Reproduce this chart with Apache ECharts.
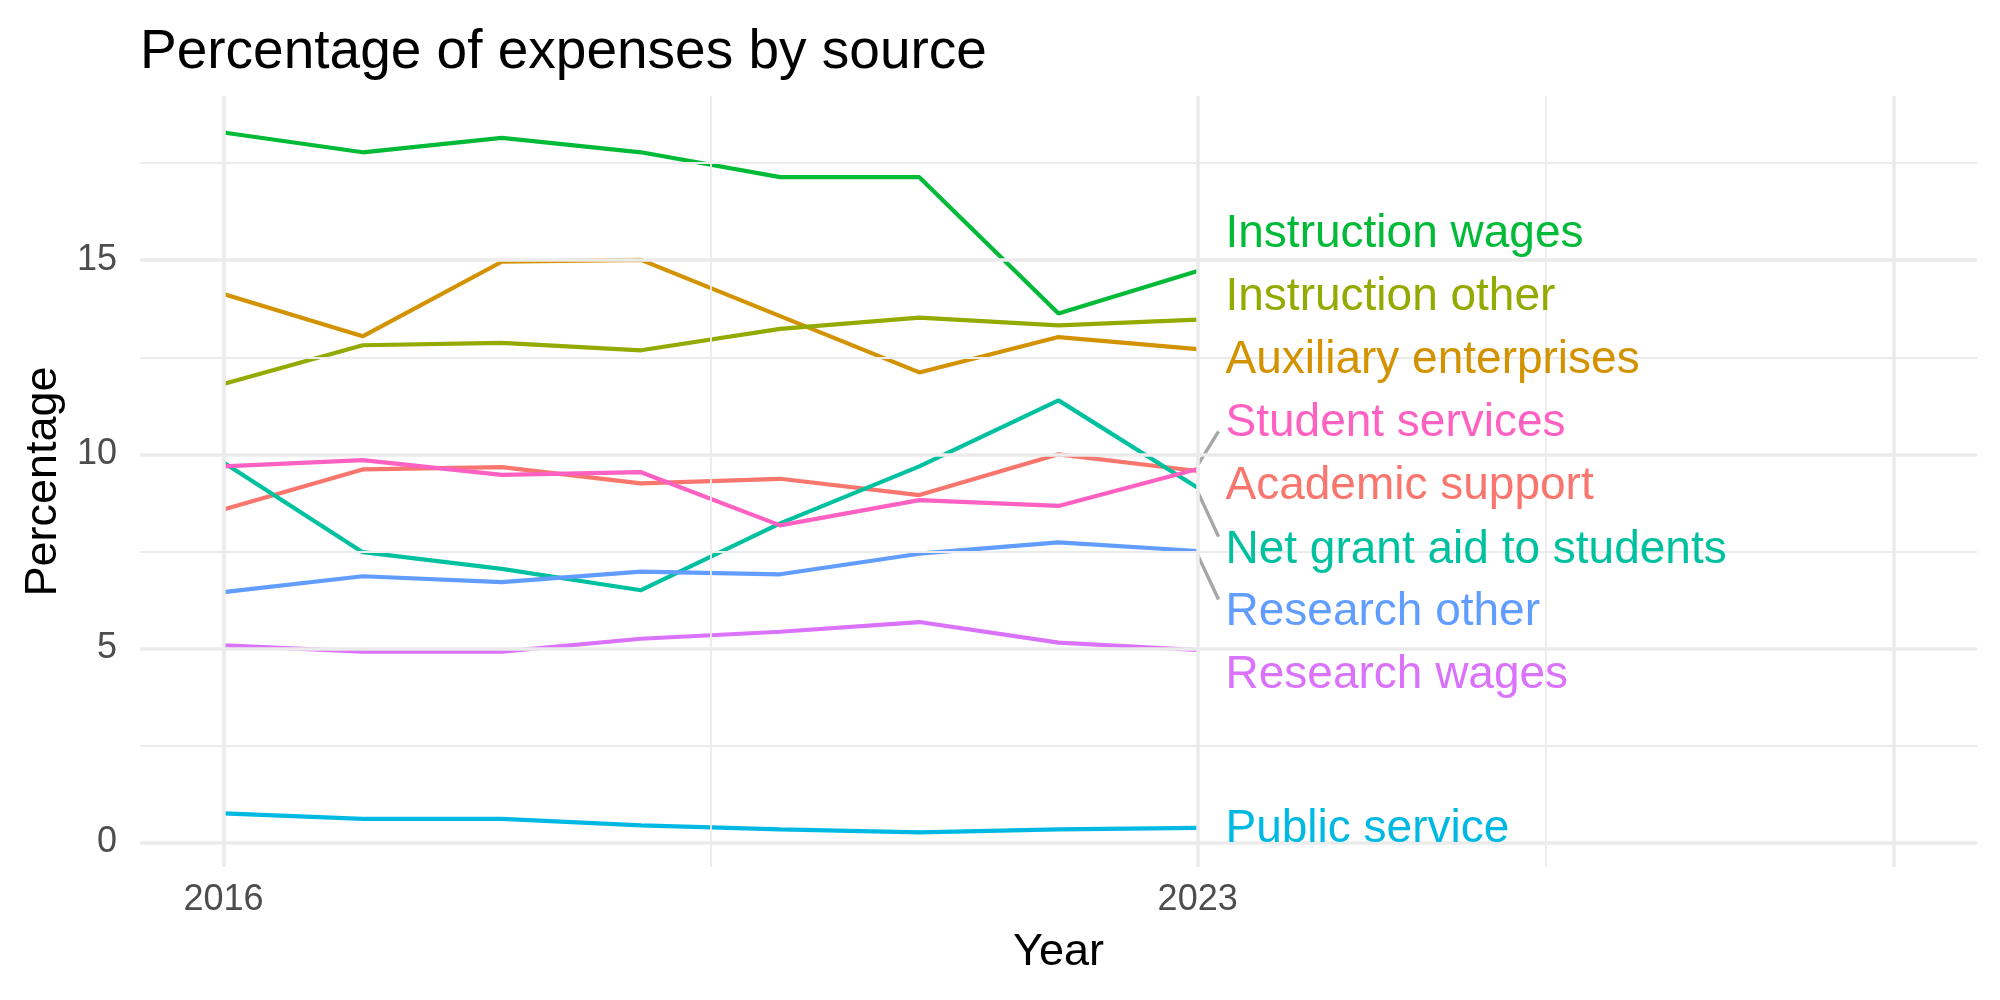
<!DOCTYPE html>
<html>
<head>
<meta charset="utf-8">
<title>Percentage of expenses by source</title>
<script src="https://cdn.jsdelivr.net/npm/echarts@6/dist/echarts.min.js"></script>
<style>
  html, body { margin: 0; padding: 0; background: #fff; }
  #chart { width: 2000px; height: 1000px; }
</style>
</head>
<body>
<div id="chart"></div>
<script>
// years on the x axis
var years = [2016, 2017, 2018, 2019, 2020, 2021, 2022, 2023];

// percentage of expenses, one array per source
var academicSupport      = [8.58, 9.61, 9.67, 9.25, 9.37, 8.95, 10.00, 9.57];
var auxiliaryEnterprises = [14.13, 13.04, 14.96, 15.01, 13.56, 12.11, 13.02, 12.71];
var instructionOther     = [11.81, 12.81, 12.87, 12.68, 13.23, 13.52, 13.32, 13.47];
var instructionWages     = [18.29, 17.78, 18.15, 17.78, 17.14, 17.14, 13.63, 14.72];
var netGrantAid          = [9.79, 7.48, 7.05, 6.50, 8.22, 9.69, 11.39, 9.14];
var publicService        = [0.75, 0.61, 0.61, 0.44, 0.34, 0.26, 0.34, 0.38];
var researchOther        = [6.45, 6.86, 6.71, 6.98, 6.91, 7.44, 7.73, 7.51];
var researchWages        = [5.08, 4.92, 4.92, 5.25, 5.43, 5.68, 5.15, 4.96];
var studentServices      = [9.69, 9.85, 9.47, 9.54, 8.17, 8.82, 8.67, 9.62];

// label anchors at the right end (repelled y positions, in data units)
var labelNames = ['Instruction wages', 'Instruction other', 'Auxiliary enterprises',
  'Student services', 'Academic support', 'Net grant aid to students',
  'Research other', 'Research wages', 'Public service'];
var labelY = [15.66, 14.05, 12.42, 10.79, 9.17, 7.54, 5.92, 4.30, 0.33];
var labelX = 2023.2;

// which labels got a leader segment
var connectorNames = ['Student services', 'Net grant aid to students', 'Research other'];

// tick labels and grid breaks
var xTickLabels = [2016, 2023];
var yTickLabels = [0, 5, 10, 15];
var xMajor = [2016, 2023, 2028];
var xMinor = [2019.5, 2025.5];
var yMajor = [0, 5, 10, 15];
var yMinor = [2.5, 7.5, 12.5, 17.5];

var xMin = 2015.4, xMax = 2028.6;
var yMin = -0.63, yMax = 19.23;

var sources = [
  { name: 'Academic support', values: academicSupport, color: '#F8766D' },
  { name: 'Auxiliary enterprises', values: auxiliaryEnterprises, color: '#D39200' },
  { name: 'Instruction other', values: instructionOther, color: '#93AA00' },
  { name: 'Instruction wages', values: instructionWages, color: '#00BA38' },
  { name: 'Net grant aid to students', values: netGrantAid, color: '#00C19F' },
  { name: 'Public service', values: publicService, color: '#00B9E3' },
  { name: 'Research other', values: researchOther, color: '#619CFF' },
  { name: 'Research wages', values: researchWages, color: '#DB72FB' },
  { name: 'Student services', values: studentServices, color: '#FF61C3' }
];

var font = 'Liberation Sans, Arial, sans-serif';

function findSource(name) {
  for (var i = 0; i < sources.length; i++) {
    if (sources[i].name === name) return sources[i];
  }
  return null;
}

// gridlines as mark lines
var gridLines = [];
function addGrid(list, vertical, width) {
  list.forEach(function (v) {
    var a = vertical ? [v, yMin] : [xMin, v];
    var b = vertical ? [v, yMax] : [xMax, v];
    gridLines.push([
      { coord: a, lineStyle: { color: '#EBEBEB', width: width, type: 'solid' } },
      { coord: b }
    ]);
  });
}
addGrid(yMinor, false, 1.8);
addGrid(xMinor, true, 1.8);
addGrid(yMajor, false, 3.5);
addGrid(xMajor, true, 3.5);

var series = [{
  type: 'line',
  data: [],
  silent: true,
  z: 1,
  markLine: {
    silent: true,
    symbol: ['none', 'none'],
    label: { show: false },
    animation: false,
    data: gridLines
  }
}];

sources.forEach(function (s) {
  series.push({
    name: s.name,
    type: 'line',
    data: years.map(function (y, i) { return [y, s.values[i]]; }),
    showSymbol: false,
    symbol: 'none',
    z: 3,
    lineStyle: { color: s.color, width: 4.2 },
    itemStyle: { color: s.color },
    animation: false
  });
});

// leader segments
connectorNames.forEach(function (name) {
  var s = findSource(name);
  var last = s.values[s.values.length - 1];
  var ly = labelY[labelNames.indexOf(name)] + 0.07;
  var dir = ly > last ? 1 : -1;
  series.push({
    type: 'line',
    data: [[years[years.length - 1], last + dir * 0.1], [labelX - 0.05, ly - dir * 0.27]],
    showSymbol: false,
    symbol: 'none',
    silent: true,
    z: 4,
    lineStyle: { color: '#A6A6A6', width: 3.4 },
    animation: false
  });
});

// text labels
labelNames.forEach(function (name, i) {
  var s = findSource(name);
  series.push({
    type: 'scatter',
    data: [[labelX, labelY[i]]],
    symbolSize: 0,
    silent: true,
    z: 5,
    itemStyle: { opacity: 1, color: s.color },
    label: {
      show: true,
      position: 'right',
      distance: 0,
      formatter: name,
      color: s.color,
      opacity: 1,
      fontSize: 46,
      fontFamily: font
    },
    animation: false
  });
});

var chart = echarts.init(document.getElementById('chart'), null, { renderer: 'canvas' });
chart.setOption({
  backgroundColor: '#ffffff',
  animation: false,
  title: {
    text: 'Percentage of expenses by source',
    left: 135,
    top: 20,
    textStyle: { color: '#000', fontSize: 55, fontWeight: 'normal', fontFamily: font }
  },
  grid: { left: 140, right: 23, top: 96, bottom: 133, containLabel: false },
  xAxis: {
    type: 'value',
    min: xMin,
    max: xMax,
    name: 'Year',
    nameLocation: 'middle',
    nameGap: 63,
    nameTextStyle: { color: '#000', fontSize: 45, fontFamily: font },
    axisLine: { show: false },
    axisTick: { show: false },
    splitLine: { show: false },
    axisLabel: {
      customValues: xTickLabels,
      margin: 15,
      color: '#4D4D4D',
      fontSize: 36,
      fontFamily: font,
      formatter: function (v) { return String(v); }
    }
  },
  yAxis: {
    type: 'value',
    min: yMin,
    max: yMax,
    name: 'Percentage',
    nameLocation: 'middle',
    nameRotate: 90,
    nameGap: 62,
    nameTextStyle: { color: '#000', fontSize: 45, fontFamily: font },
    axisLine: { show: false },
    axisTick: { show: false },
    splitLine: { show: false },
    axisLabel: {
      customValues: yTickLabels,
      margin: 23,
      color: '#4D4D4D',
      fontSize: 36,
      fontFamily: font,
      formatter: function (v) { return String(v); }
    }
  },
  series: series
});
</script>
</body>
</html>
